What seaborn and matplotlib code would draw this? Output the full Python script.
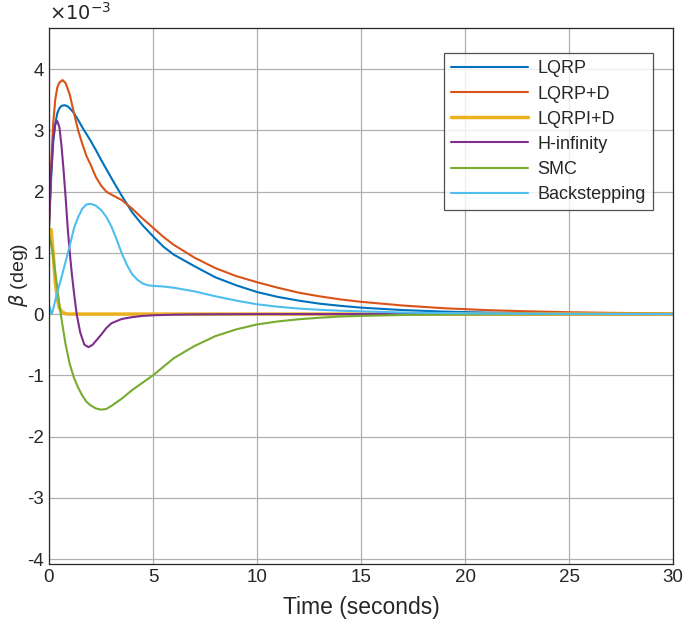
import numpy as np
import pandas as pd
import seaborn as sns
from matplotlib import pyplot as plt
from matplotlib.ticker import FuncFormatter

# beta values read in units of 1e-3 deg
t_lqrp = [0, 0.1, 0.2, 0.3, 0.4, 0.5, 0.6, 0.75, 0.9, 1.0, 1.2, 1.4, 1.6, 1.8, 2.0, 2.25,
          2.5, 2.75, 3.0, 3.5, 4.0, 4.5, 5, 5.5, 6, 7, 8, 9, 10, 11, 12, 13, 14, 15, 17,
          19, 21, 23, 25, 27, 30]
lqrp = [1.4, 2.2, 2.8, 3.1, 3.28, 3.36, 3.4, 3.41, 3.39, 3.36, 3.28, 3.17, 3.05, 2.94,
        2.83, 2.68, 2.52, 2.37, 2.22, 1.93, 1.66, 1.45, 1.27, 1.1, 0.97, 0.78, 0.6, 0.47,
        0.36, 0.28, 0.22, 0.17, 0.135, 0.105, 0.065, 0.04, 0.025, 0.015, 0.01, 0.006, 0.003]

t_lqrpd = [0, 0.1, 0.2, 0.3, 0.4, 0.5, 0.65, 0.8, 1.0, 1.2, 1.4, 1.6, 1.8, 2.0, 2.25, 2.5,
           2.75, 3.0, 3.5, 4.0, 4.5, 5, 5.5, 6, 7, 8, 9, 10, 11, 12, 13, 14, 15, 17, 19,
           21, 23, 25, 27, 30]
lqrpd = [1.4, 2.4, 3.1, 3.5, 3.7, 3.78, 3.82, 3.77, 3.58, 3.28, 3.0, 2.78, 2.58, 2.44,
         2.24, 2.1, 2.0, 1.95, 1.86, 1.72, 1.56, 1.41, 1.26, 1.13, 0.92, 0.75, 0.62, 0.52,
         0.43, 0.35, 0.29, 0.24, 0.2, 0.14, 0.095, 0.065, 0.045, 0.03, 0.02, 0.01]

t_lqrpid = [0, 0.1, 0.2, 0.3, 0.4, 0.5, 0.6, 0.8, 1.0, 2.0, 5, 10, 20, 30]
lqrpid = [1.35, 1.38, 1.0, 0.52, 0.25, 0.1, 0.04, 0.005, 0, 0, 0, 0, 0, 0]

t_hinf = [0, 0.1, 0.2, 0.3, 0.4, 0.5, 0.6, 0.7, 0.8, 0.9, 1.0, 1.1, 1.2, 1.33, 1.5, 1.7,
          1.9, 2.1, 2.3, 2.5, 2.75, 3.0, 3.5, 4.0, 4.5, 5, 6, 7, 10, 20, 30]
hinf = [1.5, 2.3, 2.85, 3.1, 3.15, 3.05, 2.75, 2.35, 1.9, 1.4, 1.0, 0.65, 0.35, 0.0, -0.3,
        -0.5, -0.54, -0.5, -0.42, -0.34, -0.23, -0.15, -0.08, -0.05, -0.03, -0.02, -0.01,
        -0.005, 0, 0, 0]

t_smc = [0, 0.1, 0.2, 0.3, 0.4, 0.5, 0.6, 0.8, 1.0, 1.2, 1.4, 1.6, 1.8, 2.0, 2.25, 2.5,
         2.75, 3.0, 3.5, 4.0, 4.5, 5, 5.5, 6, 7, 8, 9, 10, 11, 12, 13, 14, 15, 17, 19,
         21, 25, 30]
smc = [1.28, 1.15, 0.95, 0.68, 0.42, 0.15, -0.08, -0.5, -0.82, -1.04, -1.2, -1.33, -1.43,
       -1.49, -1.54, -1.56, -1.55, -1.5, -1.38, -1.24, -1.12, -1.0, -0.86, -0.72, -0.52,
       -0.36, -0.25, -0.17, -0.12, -0.085, -0.06, -0.04, -0.03, -0.015, -0.008, -0.004,
       -0.001, 0]

t_back = [0, 0.13, 0.2, 0.3, 0.4, 0.5, 0.6, 0.8, 1.0, 1.2, 1.4, 1.6, 1.8, 2.0, 2.25, 2.5,
          2.75, 3.0, 3.25, 3.5, 3.75, 4.0, 4.25, 4.5, 4.75, 5, 5.5, 6, 6.5, 7, 8, 9, 10,
          11, 12, 13, 14, 15, 17, 19, 21, 23, 25, 27, 30]
back = [0.14, 0.0, 0.08, 0.22, 0.35, 0.48, 0.6, 0.86, 1.12, 1.4, 1.58, 1.72, 1.79, 1.8,
        1.77, 1.7, 1.59, 1.43, 1.22, 0.99, 0.8, 0.65, 0.56, 0.5, 0.47, 0.46, 0.45, 0.43,
        0.4, 0.37, 0.29, 0.22, 0.16, 0.12, 0.09, 0.07, 0.055, 0.045, 0.025, 0.015, 0.01,
        0.006, 0.004, 0.002, 0.001]

names = ["LQRP", "LQRP+D", "LQRPI+D", "H-infinity", "SMC", "Backstepping"]
times = [t_lqrp, t_lqrpd, t_lqrpid, t_hinf, t_smc, t_back]
values = [lqrp, lqrpd, lqrpid, hinf, smc, back]
colors = ["#0072BD", "#D95319", "#EDB120", "#7E2F8E", "#77AC30", "#4DBEEE"]
widths = [1.5, 1.5, 2.5, 1.5, 1.5, 1.5]

sns.set_style("white")
plt.rcParams["font.family"] = ["Liberation Sans", "DejaVu Sans"]
plt.rcParams["axes.unicode_minus"] = False

fig = plt.figure(figsize=(6.85, 6.24), dpi=100)
ax = fig.add_axes([49 / 685, 1 - 564 / 624, 624 / 685, 536 / 624])

for name, t, v, c, w in zip(names, times, values, colors, widths):
    df = pd.DataFrame({"t": t, "beta": np.array(v) * 1e-3})
    sns.lineplot(data=df, x="t", y="beta", ax=ax, color=c, linewidth=w,
                 label=name, estimator=None, sort=False)

ax.set_xlim(0, 30)
ax.set_ylim(-4.08e-3, 4.67e-3)
ax.set_xticks(np.arange(0, 31, 5))
ax.set_yticks(np.arange(-4, 5) * 1e-3)
ax.yaxis.set_major_formatter(FuncFormatter(lambda v, p: "%d" % round(v * 1e3)))
ax.text(0.0, 1.008, r"$\times10^{-3}$", transform=ax.transAxes, fontsize=14,
        color="#262626", ha="left", va="bottom")

ax.grid(True, color="#b0b0b0", linewidth=0.9)
ax.tick_params(direction="in", length=5, labelsize=13.5, colors="#262626", width=0.8)
for s in ax.spines.values():
    s.set_color("#262626")
    s.set_linewidth(0.9)

ax.set_xlabel("Time (seconds)", fontsize=16.5, color="#262626", labelpad=7)
ax.set_ylabel(r"$\beta$ (deg)", fontsize=14, color="#262626")
ax.yaxis.set_label_coords(-0.03, 0.54)

leg = ax.legend(loc="upper right", bbox_to_anchor=(0.968, 0.953), fontsize=13,
                frameon=True, fancybox=False, handlelength=4.3, labelspacing=0.45,
                borderpad=0.4, handletextpad=0.5, borderaxespad=0)
leg.get_frame().set_edgecolor("#262626")
leg.get_frame().set_linewidth(0.9)
for line in leg.get_lines():
    line.set_linewidth(1.5)
leg.get_lines()[2].set_linewidth(2.5)

fig.savefig("out.png", dpi=100)
